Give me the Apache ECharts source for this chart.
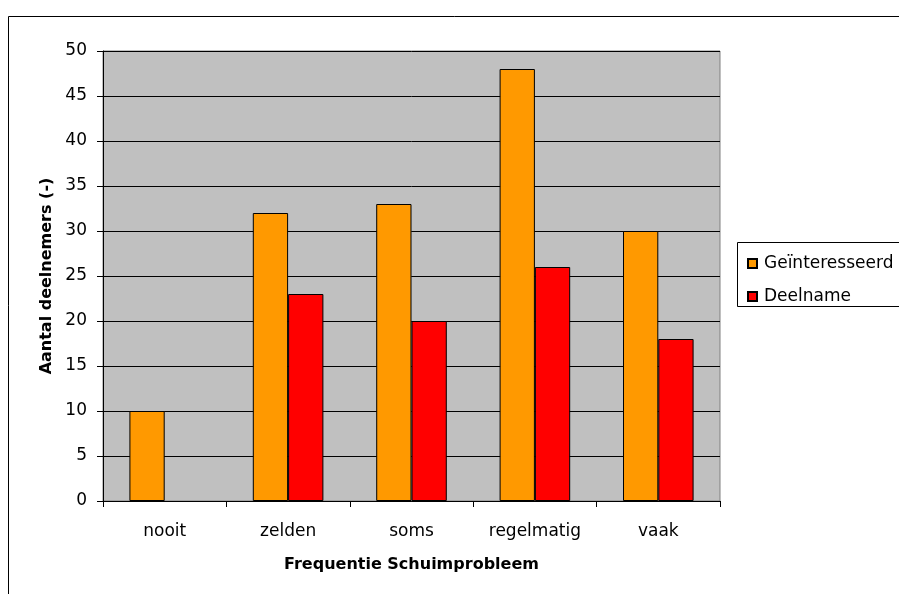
<!DOCTYPE html>
<html>
<head>
<meta charset="utf-8">
<script src="https://cdn.jsdelivr.net/npm/echarts@6/dist/echarts.min.js"></script>
<style>html,body{margin:0;padding:0;background:#fff;}#c{width:899px;height:594px;}</style>
</head>
<body>
<div id="c"></div>
<script>
var categories = ['nooit', 'zelden', 'soms', 'regelmatig', 'vaak'];
var geinteresseerd = [10, 32, 33, 48, 30];
var deelname = [0, 23, 20, 26, 18];
var seriesNames = ['Geïnteresseerd', 'Deelname'];
var yMin = 0, yMax = 50, yStep = 5;

var FONT = 'DejaVu Sans';
function toItems(arr) {
  return arr.map(function (v) {
    return v === 0 ? {value: v, itemStyle: {borderWidth: 0, opacity: 0}} : v;
  });
}
var chart = echarts.init(document.getElementById('c'), null, {renderer: 'canvas'});
chart.setOption({
  animation: false,
  backgroundColor: '#ffffff',
  textStyle: {fontFamily: FONT},
  grid: {left: 103, top: 51, right: 179, bottom: 93, show: true, backgroundColor: '#c0c0c0', borderColor: '#808080', borderWidth: 1},
  graphic: [
    {type: 'rect', shape: {x: 8.5, y: 16.5, width: 1000, height: 1000}, style: {fill: 'none', stroke: '#000', lineWidth: 1}, silent: true, z: 100},
    {type: 'rect', shape: {x: 737.5, y: 242.5, width: 300, height: 64}, style: {fill: '#fff', stroke: '#000', lineWidth: 1}, silent: true, z: 0}
  ],
  legend: {
    orient: 'vertical', left: 742, top: 249, itemWidth: 9, itemHeight: 9, itemGap: 14,
    icon: 'rect',
    textStyle: {fontFamily: FONT, fontSize: 17, color: '#000', lineHeight: 19, padding: [0, 0, 0, 2]},
    data: seriesNames, z: 5
  },
  xAxis: {
    type: 'category', data: categories,
    name: 'Frequentie Schuimprobleem', nameLocation: 'middle', nameGap: 56,
    nameTextStyle: {fontFamily: FONT, fontSize: 16, fontWeight: 'bold', color: '#000'},
    axisLine: {lineStyle: {color: '#000', width: 1}},
    axisTick: {show: true, length: 6, lineStyle: {color: '#000'}},
    axisLabel: {color: '#000', fontSize: 17, fontFamily: FONT, margin: 22},
    splitLine: {show: false}
  },
  yAxis: {
    type: 'value', min: yMin, max: yMax, interval: yStep,
    name: 'Aantal deelnemers (-)', nameLocation: 'middle', nameGap: 47, nameRotate: 90,
    nameTextStyle: {fontFamily: FONT, fontSize: 16, fontWeight: 'bold', color: '#000'},
    axisLine: {show: true, lineStyle: {color: '#000', width: 1}},
    axisTick: {show: true, length: 6, lineStyle: {color: '#000'}},
    axisLabel: {color: '#000', fontSize: 17, fontFamily: FONT, margin: 16},
    splitLine: {show: true, lineStyle: {color: '#000', width: 1}}
  },
  series: [
    {name: seriesNames[0], type: 'bar', data: toItems(geinteresseerd), barGap: '0%', barCategoryGap: '42.8%',
     itemStyle: {color: '#ff9900', borderColor: '#000', borderWidth: 1}},
    {name: seriesNames[1], type: 'bar', data: toItems(deelname),
     itemStyle: {color: '#ff0000', borderColor: '#000', borderWidth: 1}}
  ]
});
</script>
</body>
</html>
